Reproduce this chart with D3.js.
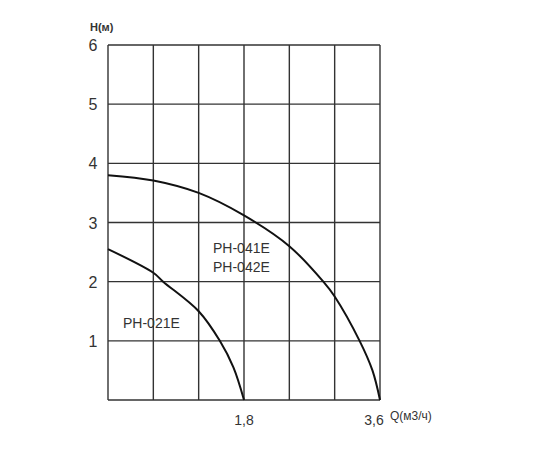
<!DOCTYPE html>
<html><head><meta charset="utf-8">
<script src="https://cdn.jsdelivr.net/npm/d3@7"></script>
<style>body{margin:0;background:#fff}</style></head>
<body><svg id="c" width="550" height="450"></svg>
<script>
const yTicks=[1,2,3,4,5,6];
const xGrid=[0,0.6,1.2,1.8,2.4,3.0,3.6];
const xTickLabels=[{v:1.8,t:"1,8"},{v:3.6,t:"3,6"}];
const q041=[0,0.6,1.2,1.8,2.4,2.85,3.0,3.33,3.5,3.6];
const h041=[3.8,3.71,3.5,3.12,2.6,2.0,1.75,1.0,0.5,0];
const q021=[0,0.6,0.73,1.2,1.48,1.66,1.8];
const h021=[2.55,2.15,2.0,1.5,1.0,0.55,0];
const svg=d3.select("#c");
const x=d3.scaleLinear().domain([0,3.6]).range([108,380]);
const y=d3.scaleLinear().domain([0,6]).range([400,45]);
const g=svg.append("g");
g.selectAll(".v").data(xGrid).join("line").attr("x1",d=>x(d)).attr("x2",d=>x(d)).attr("y1",y(0)).attr("y2",y(6)).attr("stroke","#333").attr("stroke-width",1.4);
g.selectAll(".h").data([0].concat(yTicks)).join("line").attr("y1",d=>y(d)).attr("y2",d=>y(d)).attr("x1",x(0)).attr("x2",x(3.6)).attr("stroke","#333").attr("stroke-width",1.4);
const font="Liberation Sans, Arial, sans-serif";
svg.selectAll(".yt").data(yTicks).join("text").attr("x",93).attr("y",d=>y(d)+6).attr("text-anchor","middle").attr("font-family",font).attr("font-size",16).attr("fill","#333").text(d=>d);
svg.selectAll(".xt").data(xTickLabels).join("text").attr("x",d=>x(d.v)-(d.v>3?6:0)).attr("y",425).attr("text-anchor","middle").attr("font-family",font).attr("font-size",14).attr("fill","#333").text(d=>d.t);
svg.append("text").attr("x",390).attr("y",420).attr("font-family",font).attr("font-size",12).attr("fill","#333").text("Q(м3/ч)");
svg.append("text").attr("x",90).attr("y",31).attr("font-family",font).attr("font-size",11).attr("font-weight","bold").attr("fill","#333").text("H(м)");
const line=d3.line().x(d=>x(d[0])).y(d=>y(d[1])).curve(d3.curveCatmullRom.alpha(0.5));
svg.append("path").attr("d",line(q041.map((q,i)=>[q,h041[i]]))).attr("fill","none").attr("stroke","#111").attr("stroke-width",2);
svg.append("path").attr("d",line(q021.map((q,i)=>[q,h021[i]]))).attr("fill","none").attr("stroke","#111").attr("stroke-width",2);
const lab=[{t:"PH-041E",x:213,y:253},{t:"PH-042E",x:213,y:272},{t:"PH-021E",x:123,y:328}];
svg.selectAll(".l").data(lab).join("text").attr("x",d=>d.x).attr("y",d=>d.y).attr("font-family",font).attr("font-size",14).attr("fill","#333").text(d=>d.t);
</script></body></html>
